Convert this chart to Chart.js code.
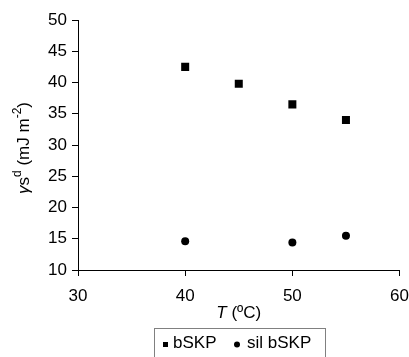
<!DOCTYPE html>
<html><head><meta charset="utf-8">
<script src="https://cdn.jsdelivr.net/npm/chart.js@4"></script>
<style>html,body{margin:0;padding:0;background:#fff}#wrap{width:409px;height:357px;position:relative}</style>
</head><body><div id="wrap"><canvas id="c"></canvas></div>
<script>
const temperatures = [40, 45, 50, 55];
const bSKP = [42.5, 39.8, 36.5, 34.0];
const silTemperatures = [40, 50, 55];
const silBSKP = [14.6, 14.4, 15.5];
const seriesNames = ['bSKP', 'sil bSKP'];
const xRange = [30, 60];
const yRange = [10, 50];
const xStep = 10;
const yStep = 5;

const FONT = 'Arial, "Liberation Sans", sans-serif';

const titlesPlugin = {
  id: 'titles',
  afterDraw(chart) {
    const ctx = chart.ctx;
    const ca = chart.chartArea;
    ctx.save();
    ctx.fillStyle = '#000';
    // x title
    const xParts = [
      {t: 'T', f: 'italic 17px ' + FONT, dy: 0},
      {t: ' (ºC)', f: '17px ' + FONT, dy: 0}
    ];
    drawParts(ctx, xParts, (ca.left + ca.right) / 2, 318);
    // y title rotated
    ctx.save();
    ctx.translate(29, (ca.top + ca.bottom) / 2 + 3);
    ctx.rotate(-Math.PI / 2);
    const yParts = [
      {t: 'γ', f: 'italic 17px ' + FONT, dy: 0},
      {t: 's', f: '17px ' + FONT, dy: 0},
      {t: 'd', f: '12px ' + FONT, dy: -8},
      {t: ' (mJ m', f: '17px ' + FONT, dy: 0},
      {t: '-2', f: '12px ' + FONT, dy: -8},
      {t: ')', f: '17px ' + FONT, dy: 0}
    ];
    drawParts(ctx, yParts, 0, 0);
    ctx.restore();
    // legend box
    ctx.strokeStyle = '#808080';
    ctx.lineWidth = 1;
    ctx.strokeRect(154.5, 328.5, 171, 40);
    ctx.font = '17px ' + FONT;
    ctx.textBaseline = 'alphabetic';
    ctx.textAlign = 'left';
    const ly = 348;
    ctx.fillRect(163, 342, 5, 5);
    ctx.fillText(seriesNames[0], 173, ly);
    ctx.beginPath();
    ctx.arc(237, 344.5, 3, 0, Math.PI * 2);
    ctx.fill();
    ctx.fillText(seriesNames[1], 247, ly);
    ctx.restore();
  }
};

function drawParts(ctx, parts, cx, baseline) {
  let total = 0;
  for (const p of parts) { ctx.font = p.f; total += ctx.measureText(p.t).width; }
  let x = cx - total / 2;
  ctx.textBaseline = 'alphabetic';
  ctx.textAlign = 'left';
  for (const p of parts) {
    ctx.font = p.f;
    ctx.fillText(p.t, x, baseline + p.dy);
    x += ctx.measureText(p.t).width;
  }
}

new Chart(document.getElementById('c'), {
  type: 'scatter',
  data: {
    datasets: [
      {
        label: seriesNames[0],
        data: temperatures.map((t, i) => ({x: t, y: bSKP[i]})),
        pointStyle: 'rect',
        pointRadius: 5.66,
        pointBackgroundColor: '#000',
        pointBorderWidth: 0
      },
      {
        label: seriesNames[1],
        data: silTemperatures.map((t, i) => ({x: t, y: silBSKP[i]})),
        pointStyle: 'circle',
        pointRadius: 4,
        pointBackgroundColor: '#000',
        pointBorderWidth: 0
      }
    ]
  },
  options: {
    responsive: true,
    maintainAspectRatio: false,
    animation: false,
    devicePixelRatio: 1,
    layout: {padding: {top: 20, right: 0, left: 0, bottom: 0}},
    plugins: {legend: {display: false}, tooltip: {enabled: false}},
    scales: {
      x: {
        type: 'linear', min: xRange[0], max: xRange[1],
        ticks: {stepSize: xStep, color: '#000', font: {size: 17, family: FONT, lineHeight: 2.35}, padding: 0, maxRotation: 0},
        grid: {drawOnChartArea: false, drawTicks: true, tickLength: 6, color: '#000'},
        border: {display: true, color: '#000', width: 1},
        afterFit(s) { s.height = 87; }
      },
      y: {
        type: 'linear', min: yRange[0], max: yRange[1],
        ticks: {stepSize: yStep, color: '#000', font: {size: 17, family: FONT}, padding: 5},
        grid: {drawOnChartArea: false, drawTicks: true, tickLength: 6, color: '#000'},
        border: {display: true, color: '#000', width: 1},
        afterFit(s) { s.width = 78; }
      }
    }
  },
  plugins: [titlesPlugin]
});
</script>
</body></html>
